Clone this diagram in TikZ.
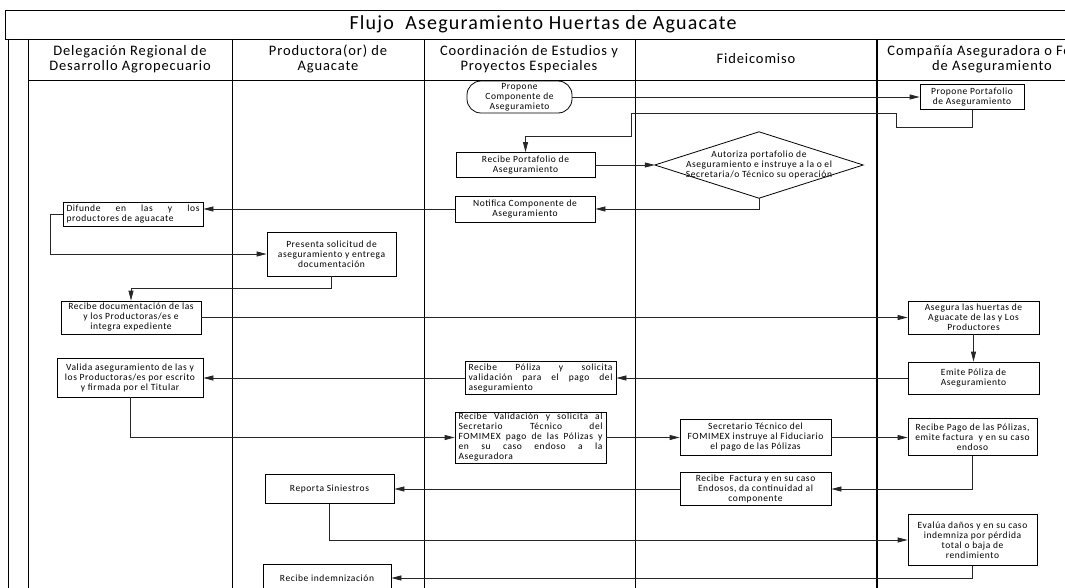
\documentclass[tikz,border=0pt]{standalone}
\usepackage{fontspec}
\setmainfont{Carlito}[LetterSpace=6]
\usetikzlibrary{arrows.meta}
\newcommand{\jl}[2]{\makebox[#1][s]{#2}}
\begin{document}
\begin{tikzpicture}[x=1pt,y=-1pt,
  frame/.style={line width=0.9pt, draw=black},
  lane/.style={line width=0.9pt, draw=black},
  thicklane/.style={line width=1.6pt, draw=black},
  box/.style={draw, line width=0.8pt, inner sep=0pt, font=\fontsize{9.5}{10}\selectfont, align=center},
  conn/.style={line width=0.8pt, draw=black!85},
  arr/.style={conn, -{Triangle[length=10pt,width=5pt]}},
  hdr/.style={font=\fontsize{14.5}{15}\selectfont, align=center},
]
\clip (0,0) rectangle (1065,588);
% frame
\draw[frame] (1065,10) -- (5,10) -- (5,39) -- (1065,39);
\draw[frame] (8,39) -- (8,588);
\draw[frame] (28,39) -- (28,588);
\draw[frame] (28,80) -- (1065,80);
\draw[lane] (232,39) -- (232,588);
\draw[lane] (424,39) -- (424,588);
\draw[lane] (635,39) -- (635,588);
\draw[thicklane] (877,39) -- (877,588);
% title and headers
\node[font=\fontsize{20}{21}\selectfont] (title) at (543,24) {Flujo\ \ Aseguramiento Huertas de Aguacate};
\node[hdr] (h1) at (130,59) {Delegación Regional de\\Desarrollo Agropecuario};
\node[hdr] (h2) at (328,59) {Productora(or) de\\Aguacate};
\node[hdr] (h3) at (529,59) {Coordinación de Estudios y\\Proyectos Especiales};
\node[hdr] (h4) at (756,59) {Fideicomiso};
\node[hdr] (h5) at (992,59) {Compañía Aseguradora o Fondo\\de Aseguramiento};
% nodes
\node[box, rounded corners=14pt, minimum width=105pt, minimum height=32pt] (n1) at (519.5,97) {Propone\\Componente de\\Aseguramieto};
\node[box, minimum width=104pt, minimum height=25pt] (n2) at (972,97) {Propone Portafolio\\de Aseguramiento};
\node[box, minimum width=139pt, minimum height=25pt] (n3) at (525.5,165) {Recibe Portafolio de\\Aseguramiento};
\node[inner sep=0pt, minimum width=208pt, minimum height=66pt, font=\fontsize{9.5}{10}\selectfont, align=center] (d) at (759,165) {Autoriza portafolio de\\Aseguramiento e instruye a la o el\\Secretaria/o Técnico su operación};
\draw[line width=0.8pt] (d.north) -- (d.east) -- (d.south) -- (d.west) -- cycle;
\node[box, minimum width=140pt, minimum height=26pt] (n5) at (525,209) {Notifica Componente de\\Aseguramiento};
\node[box, minimum width=140pt, minimum height=24pt, align=left] (n6) at (133,214) {\jl{133pt}{Difunde en las y los}\\productores de aguacate};
\node[box, minimum width=129pt, minimum height=44pt] (n7) at (331.5,254) {Presenta solicitud de\\aseguramiento y entrega\\documentación};
\node[box, minimum width=140pt, minimum height=33pt] (n8) at (131,317.5) {Recibe documentación de las\\y los Productoras/es e\\integra expediente};
\node[box, minimum width=131pt, minimum height=33pt] (n9) at (973.5,317.5) {Asegura las huertas de\\Aguacate de las y Los\\Productores};
\node[box, minimum width=131pt, minimum height=32pt] (n10) at (973.5,378) {Emite Póliza de\\Aseguramiento};
\node[box, minimum width=151pt, minimum height=33pt, align=left] (n11) at (540.5,378) {\jl{144pt}{Recibe Póliza y solicita}\\\jl{144pt}{validación para el pago del}\\aseguramiento};
\node[box, minimum width=146pt, minimum height=39pt] (n12) at (130,377.5) {Valida aseguramiento de las y\\los Productoras/es por escrito\\y firmada por el Titular};
\node[box, minimum width=151pt, minimum height=51pt, align=left] (n13) at (530.5,437.5) {\jl{144pt}{Recibe Validación y solicita al}\\\jl{144pt}{Secretario Técnico del}\\\jl{144pt}{FOMIMEX pago de las Pólizas y}\\\jl{144pt}{en su caso endoso a la}\\Aseguradora};
\node[box, minimum width=151pt, minimum height=36pt] (n14) at (755.5,437.5) {Secretario Técnico del\\FOMIMEX instruye al Fiduciario\\el pago de las Pólizas};
\node[box, minimum width=129pt, minimum height=37pt] (n15) at (972.5,437) {Recibe Pago de las Pólizas,\\emite factura\ \ y en su caso\\endoso};
\node[box, minimum width=151pt, minimum height=33pt] (n16) at (755.5,489) {Recibe\ \ Factura y en su caso\\Endosos, da continuidad al\\componente};
\node[box, minimum width=129pt, minimum height=29pt] (n17) at (329.5,489) {Reporta Siniestros};
\node[box, minimum width=129pt, minimum height=51pt] (n18) at (972.5,540) {Evalúa daños y en su caso\\indemniza por pérdida\\total o baja de\\rendimiento};
\node[box, minimum width=128pt, minimum height=28pt] (n19) at (327,578) {Recibe indemnización};
% connectors
\draw[arr] (n1.east) -- (n2.west);
\draw[arr] (n2.south) |- (896,127) -- (896,113) -- (631,113) |- (525.5,136) -- (n3.north);
\draw[arr] (n3.east) -- (d.west);
\draw[arr] (d.south) |- (n5.east);
\draw[arr] (n5.west) -- (n5.west -| n6.east);
\draw[arr] (n6.west) -- ++(-12,0) |- (n7.west);
\draw[arr] (n7.south) -- ++(0,12) -| (n8.north);
\draw[arr] (n8.east) -- (n9.west);
\draw[arr] (n9.south) -- (n10.north);
\draw[arr] (n10.west) -- (n11.east);
\draw[arr] (n11.west) -- (n11.west -| n12.east);
\draw[arr] (n12.south) |- (n13.west);
\draw[arr] (n13.east) -- (n13.east -| n14.west);
\draw[arr] (n14.east) -- (n14.east -| n15.west);
\draw[arr] (n15.south) |- (n16.east);
\draw[arr] (n16.west) -- (n16.west -| n17.east);
\draw[arr] (n17.south) |- (n18.west);
\draw[arr] (n18.south) |- (n19.east);
\end{tikzpicture}
\end{document}
